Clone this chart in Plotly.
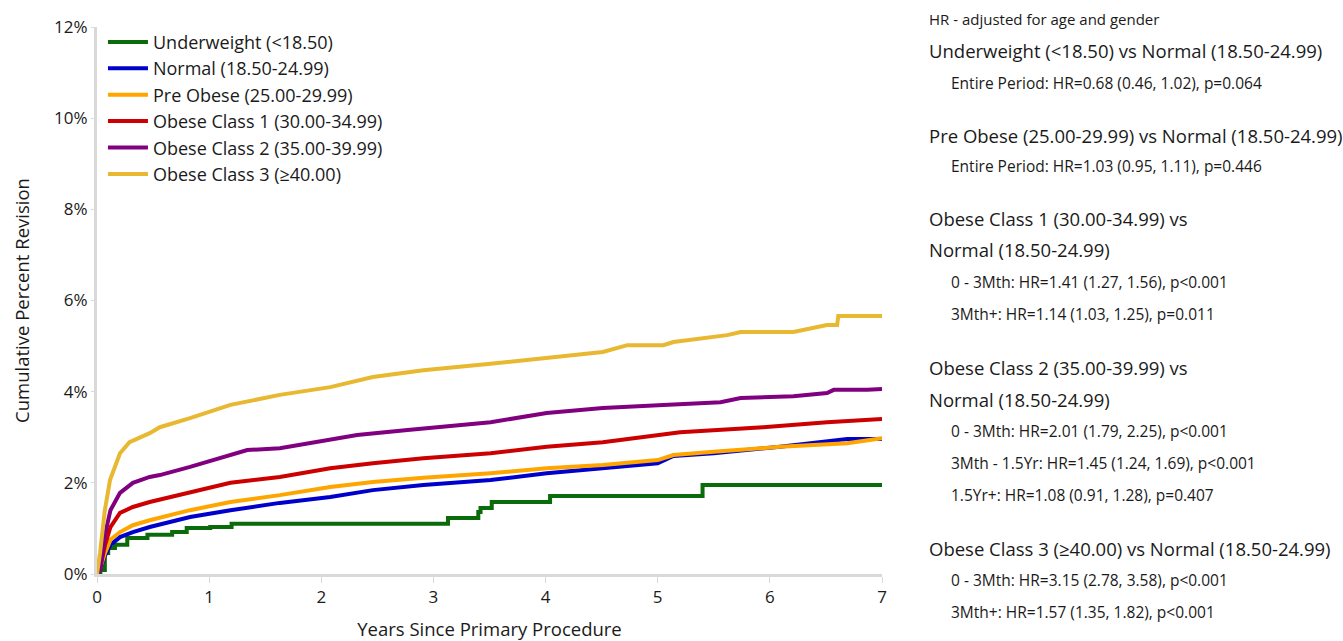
import plotly.graph_objects as go

# ---------------- data ----------------
series_names = [
    "Underweight (<18.50)",
    "Normal (18.50-24.99)",
    "Pre Obese (25.00-29.99)",
    "Obese Class 1 (30.00-34.99)",
    "Obese Class 2 (35.00-39.99)",
    "Obese Class 3 (\u226540.00)",
]

under_x = [0, 0.03, 0.07, 0.10, 0.16, 0.27, 0.45, 0.67, 0.80, 1.01, 1.20, 3.13, 3.40, 3.42, 3.52, 4.04, 5.40, 7.0]
under_y = [0, 0.09, 0.46, 0.57, 0.64, 0.79, 0.86, 0.92, 1.01, 1.03, 1.10, 1.23, 1.36, 1.45, 1.58, 1.71, 1.95, 1.95]

normal_x = [0, 0.03, 0.07, 0.12, 0.205, 0.32, 0.47, 0.83, 1.19, 1.63, 2.08, 2.46, 2.91, 3.51, 4.01, 4.51, 5.0, 5.14, 5.50, 6.09, 6.69, 7.0]
normal_y = [0, 0.12, 0.40, 0.64, 0.81, 0.92, 1.03, 1.25, 1.40, 1.56, 1.69, 1.84, 1.95, 2.06, 2.21, 2.32, 2.43, 2.59, 2.65, 2.79, 2.96, 2.96]

pre_x = [0, 0.03, 0.07, 0.12, 0.205, 0.32, 0.47, 0.83, 1.19, 1.63, 2.08, 2.46, 2.91, 3.51, 4.01, 4.51, 5.0, 5.14, 5.50, 6.09, 6.69, 7.0]
pre_y = [0, 0.14, 0.45, 0.75, 0.92, 1.07, 1.18, 1.40, 1.58, 1.73, 1.91, 2.02, 2.11, 2.21, 2.32, 2.39, 2.50, 2.61, 2.68, 2.79, 2.87, 2.98]

ob1_x = [0, 0.03, 0.07, 0.12, 0.205, 0.32, 0.47, 0.83, 1.19, 1.63, 2.08, 2.46, 2.91, 3.51, 4.01, 4.51, 5.05, 5.20, 5.94, 6.51, 7.0]
ob1_y = [0, 0.15, 0.62, 1.03, 1.34, 1.47, 1.58, 1.78, 2.00, 2.13, 2.32, 2.43, 2.54, 2.65, 2.79, 2.89, 3.05, 3.11, 3.22, 3.33, 3.40]

ob2_x = [0, 0.03, 0.07, 0.12, 0.205, 0.32, 0.47, 0.56, 0.83, 1.19, 1.34, 1.63, 2.08, 2.32, 2.77, 3.21, 3.51, 4.01, 4.51, 5.05, 5.56, 5.74, 6.21, 6.51, 6.57, 6.87, 7.0]
ob2_y = [0, 0.09, 0.85, 1.40, 1.78, 2.00, 2.13, 2.17, 2.35, 2.61, 2.72, 2.76, 2.94, 3.05, 3.16, 3.27, 3.33, 3.53, 3.64, 3.71, 3.77, 3.86, 3.90, 3.97, 4.04, 4.04, 4.06]

ob3_x = [0, 0.027, 0.07, 0.116, 0.205, 0.29, 0.47, 0.56, 0.83, 1.19, 1.63, 2.08, 2.46, 2.91, 3.51, 4.01, 4.51, 4.73, 5.05, 5.14, 5.62, 5.74, 6.21, 6.51, 6.60, 6.61, 7.0]
ob3_y = [0, 0.46, 1.40, 2.06, 2.65, 2.89, 3.09, 3.22, 3.42, 3.71, 3.93, 4.10, 4.32, 4.47, 4.61, 4.74, 4.87, 5.02, 5.02, 5.09, 5.24, 5.31, 5.31, 5.46, 5.46, 5.66, 5.66]

series_x = [under_x, normal_x, pre_x, ob1_x, ob2_x, ob3_x]
series_y = [under_y, normal_y, pre_y, ob1_y, ob2_y, ob3_y]
series_colors = ["#0a6b0a", "#0000cc", "#ffa500", "#cc0000", "#800080", "#e8b830"]
series_shapes = ["hv", "linear", "linear", "linear", "linear", "linear"]

y_ticks = [0, 2, 4, 6, 8, 10, 12]
y_tick_labels = ["0%", "2%", "4%", "6%", "8%", "10%", "12%"]
x_ticks = [0, 1, 2, 3, 4, 5, 6, 7]

# right-hand panel text: (text, kind)
panel_lines = [
    ("HR - adjusted for age and gender", "note"),
    ("Underweight (<18.50) vs Normal (18.50-24.99)", "head"),
    ("Entire Period: HR=0.68 (0.46, 1.02), p=0.064", "sub"),
    ("Pre Obese (25.00-29.99) vs Normal (18.50-24.99)", "head"),
    ("Entire Period: HR=1.03 (0.95, 1.11), p=0.446", "sub"),
    ("Obese Class 1 (30.00-34.99) vs", "head"),
    ("Normal (18.50-24.99)", "head"),
    ("0 - 3Mth: HR=1.41 (1.27, 1.56), p<0.001", "sub"),
    ("3Mth+: HR=1.14 (1.03, 1.25), p=0.011", "sub"),
    ("Obese Class 2 (35.00-39.99) vs", "head"),
    ("Normal (18.50-24.99)", "head"),
    ("0 - 3Mth: HR=2.01 (1.79, 2.25), p<0.001", "sub"),
    ("3Mth - 1.5Yr: HR=1.45 (1.24, 1.69), p<0.001", "sub"),
    ("1.5Yr+: HR=1.08 (0.91, 1.28), p=0.407", "sub"),
    ("Obese Class 3 (\u226540.00) vs Normal (18.50-24.99)", "head"),
    ("0 - 3Mth: HR=3.15 (2.78, 3.58), p<0.001", "sub"),
    ("3Mth+: HR=1.57 (1.35, 1.82), p<0.001", "sub"),
]
panel_pixel_y = [19, 51, 83, 135, 166, 218, 250, 282, 314, 367, 399, 431, 463, 495, 548, 580, 612]

# ---------------- figure ----------------
FONT = "Open Sans"
W, H = 1343, 641
ML, MR, MT, MB = 97, 461, 27, 67
plot_w = W - ML - MR
plot_h = H - MT - MB

fig = go.Figure()
for name, xs, ys, col, shp in zip(series_names, series_x, series_y, series_colors, series_shapes):
    fig.add_trace(go.Scatter(
        x=xs, y=ys, name=name, mode="lines",
        line=dict(color=col, width=4, shape=shp),
    ))

annotations = []
for (txt, kind), py in zip(panel_lines, panel_pixel_y):
    px = 927 if kind != "sub" else 949
    size = {"note": 15, "head": 18.5, "sub": 15.5}[kind]
    annotations.append(dict(
        text=txt, xref="paper", yref="paper",
        x=(px - ML) / plot_w, y=(H - MB - py) / plot_h,
        xanchor="left", yanchor="middle", showarrow=False,
        font=dict(family=FONT, size=size, color="#1a1a1a"),
    ))

fig.update_layout(
    width=W, height=H,
    margin=dict(l=ML, r=MR, t=MT, b=MB, pad=0),
    paper_bgcolor="white", plot_bgcolor="white",
    font=dict(family=FONT, size=17, color="#1a1a1a"),
    showlegend=True,
    legend=dict(
        x=0.0076, y=1.006, xanchor="left", yanchor="top",
        bgcolor="rgba(0,0,0,0)", font=dict(family=FONT, size=18),
        tracegroupgap=0, itemwidth=40,
    ),
    annotations=annotations,
    xaxis=dict(
        range=[0, 7], tickvals=x_ticks, showgrid=False, zeroline=False,
        showline=True, linecolor="#d9d9d9", linewidth=3, automargin=False,
        ticks="outside", ticklen=6, tickcolor="#d9d9d9", tickwidth=1,
        tickfont=dict(family=FONT, size=17),
        title=dict(text="Years Since Primary Procedure", font=dict(family=FONT, size=18.5), standoff=16),
    ),
    yaxis=dict(
        range=[0, 12], tickvals=y_ticks, ticktext=y_tick_labels, showgrid=False, zeroline=False,
        showline=True, linecolor="#d9d9d9", linewidth=3, automargin=False,
        ticks="outside", ticklen=3, tickcolor="#d9d9d9", tickwidth=1,
        tickfont=dict(family=FONT, size=17),
        title=dict(text="Cumulative Percent Revision", font=dict(family=FONT, size=18.5), standoff=20),
    ),
)

fig.write_html("out.html", config={"displayModeBar": False},
               post_script="document.body.style.margin='0px';")
